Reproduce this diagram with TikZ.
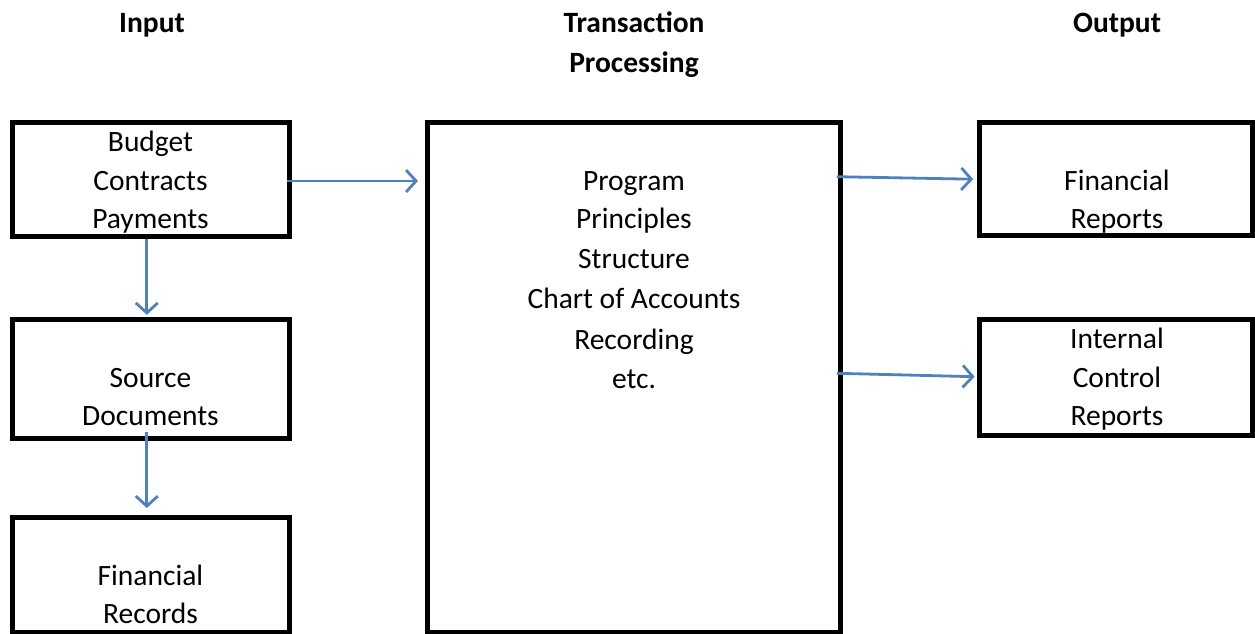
\documentclass[tikz,border=0pt]{standalone}
\usepackage{fontspec}
\setmainfont{Carlito}
\usetikzlibrary{arrows.meta,calc}
\definecolor{arrowblue}{RGB}{79,129,189}
\tikzset{
  boxnode/.style={draw=black, line width=5pt, inner sep=0pt, outer sep=0pt},
  txt/.style={anchor=base, inner sep=0pt, font=\fontsize{29.5}{35}\selectfont},
  head/.style={anchor=base, inner sep=0pt, font=\fontsize{29.5}{35}\selectfont\bfseries},
  arr/.style={draw=arrowblue, line width=2.8pt,
    -{Straight Barb[length=10pt,width=22pt,line width=2.8pt]}}
}
\begin{document}
\begin{tikzpicture}[x=1pt,y=-1pt]
\useasboundingbox (0,0) rectangle (1255,634);
% boxes
\node[boxnode, minimum width=276.7pt, minimum height=114.2pt] (A) at (150.8,179.6) {};
\node[boxnode, minimum width=276.7pt, minimum height=118.2pt] (B) at (150.8,378.9) {};
\node[boxnode, minimum width=276.7pt, minimum height=114.5pt] (C) at (150.8,574.75) {};
\node[boxnode, minimum width=413.3pt, minimum height=509.5pt] (M) at (634.1,377.25) {};
\node[boxnode, minimum width=273.3pt, minimum height=113.3pt] (R1) at (1115.8,179.2) {};
\node[boxnode, minimum width=273.3pt, minimum height=116pt] (R2) at (1115.8,377.8) {};
% headers
\node[head] (hIn) at (152,33) {Input};
\node[head] (hTP1) at (634,33) {Transaction};
\node[head] (hTP2) at (634,72) {Processing};
\node[head] (hOut) at (1117,33) {Output};
% box A text
\node[txt] (a1) at (150.5,151.5) {Budget};
\node[txt] (a2) at (150.5,190) {Contracts};
\node[txt] (a3) at (150.5,228) {Payments};
% box B text
\node[txt] (b1) at (150.5,387) {Source};
\node[txt] (b2) at (150.5,425) {Documents};
% box C text
\node[txt] (c1) at (150.5,585) {Financial};
\node[txt] (c2) at (150.5,623) {Records};
% middle text
\node[txt] (m1) at (634,190) {Program};
\node[txt] (m2) at (634,228) {Principles};
\node[txt] (m3) at (634,268) {Structure};
\node[txt] (m4) at (634,308) {Chart of Accounts};
\node[txt] (m5) at (634,349) {Recording};
\node[txt] (m6) at (634,388) {etc.};
% right texts
\node[txt] (r11) at (1117,190) {Financial};
\node[txt] (r12) at (1117,228) {Reports};
\node[txt] (r21) at (1117,348) {Internal};
\node[txt] (r22) at (1117,387) {Control};
\node[txt] (r23) at (1117,425) {Reports};
% arrows
\draw[arr] ($(A.east)+(-2.2,1.4)$) -- ($(M.west |- A.east)+(-9.5,1.4)$);
\draw[arr] ($(A.south)+(-4,2)$) -- ($(B.north)+(-4,-5)$);
\draw[arr] ($(B.south)+(-4,-6)$) -- ($(C.north)+(-4,-9.5)$);
\draw[arr] ($(M.east |- R1.west)+(-4,-2.5)$) -- ($(R1.west)+(-6,0)$);
\draw[arr] ($(M.east |- R2.west)+(-4,-4.5)$) -- ($(R2.west)+(-4.5,-1.1)$);
\end{tikzpicture}
\end{document}
